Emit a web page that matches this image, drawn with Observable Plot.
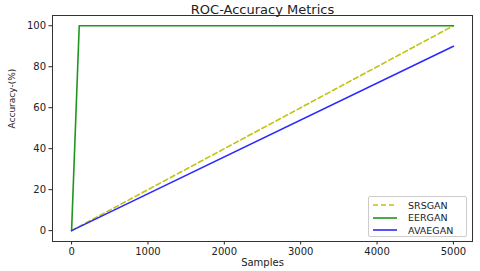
<!DOCTYPE html>
<html><head><meta charset="utf-8">
<script src="https://cdn.jsdelivr.net/npm/d3@7"></script>
<script src="https://cdn.jsdelivr.net/npm/@observablehq/plot@0.6"></script>
<style>
body{margin:0;background:#fff;font-family:"DejaVu Sans",sans-serif;}
#wrap{position:relative;width:480px;height:271px;}
#legend{position:absolute;left:368px;top:196px;width:99px;height:41px;border:1px solid #ccc;border-radius:2px;background:rgba(255,255,255,0.9);box-sizing:border-box;font-size:9.5px;color:#222;}
#legend .row{position:absolute;left:0;height:12px;display:flex;align-items:center;}
#legend svg{margin-left:4px;margin-right:11px;}
</style>
</head><body>
<div id="wrap"></div>
<script>
const title = "ROC-Accuracy Metrics";
const xLabel = "Samples";
const yLabel = "Accuracy-(%)";
const seriesNames = ["SRSGAN", "EERGAN", "AVAEGAN"];
const seriesColors = ["#c2c212", "#1f961f", "#2a2aff"];
const seriesDash = ["5,3", null, null];
const srsganX = [0, 5000];
const srsganY = [0, 100];
const eerganX = [0, 100, 5000];
const eerganY = [0, 100, 100];
const avaeganX = [0, 5000];
const avaeganY = [0, 90];
const xTicks = [0, 1000, 2000, 3000, 4000, 5000];
const yTicks = [0, 20, 40, 60, 80, 100];

const toRows = (xs, ys) => xs.map((x, i) => ({x, y: ys[i]}));
const data = [toRows(srsganX, srsganY), toRows(eerganX, eerganY), toRows(avaeganX, avaeganY)];

const plot = Plot.plot({
  width: 480, height: 271,
  marginLeft: 52, marginRight: 8, marginTop: 15, marginBottom: 30,
  style: {fontFamily: "DejaVu Sans, sans-serif", fontSize: "10px", color: "#222", background: "#fff"},
  x: {domain: [-250, 5250], ticks: xTicks, tickSize: 3.5, tickPadding: 3, label: null, tickFormat: d => String(d)},
  y: {domain: [-5.3, 105], ticks: yTicks, tickSize: 3.5, tickPadding: 3, label: null, tickFormat: d => String(d)},
  marks: [
    Plot.frame({stroke: "#333", strokeWidth: 1}),
    ...data.map((rows, i) => Plot.line(rows, {x: "x", y: "y", stroke: seriesColors[i], strokeWidth: 1.6, strokeDasharray: seriesDash[i] || undefined})),
    Plot.text([title], {frameAnchor: "top", lineAnchor: "bottom", dy: -2, fontSize: 13, fill: "#222"}),
    Plot.text([xLabel], {frameAnchor: "bottom", lineAnchor: "top", dy: 17, fontSize: 10, fill: "#222"}),
    Plot.text([yLabel], {frameAnchor: "left", dx: -40, rotate: -90, fontSize: 9, fill: "#222"})
  ]
});
const wrap = document.getElementById("wrap");
wrap.appendChild(plot);

const legend = document.createElement("div");
legend.id = "legend";
seriesNames.forEach((name, i) => {
  const row = document.createElement("div");
  row.className = "row";
  row.style.top = (2 + i * 12.5) + "px";
  row.innerHTML = `<svg width="24" height="6"><line x1="0" y1="3" x2="24" y2="3" stroke="${seriesColors[i]}" stroke-width="1.6" ${seriesDash[i] ? `stroke-dasharray="${seriesDash[i]}"` : ""}/></svg><span>${name}</span>`;
  legend.appendChild(row);
});
wrap.appendChild(legend);
</script>
</body></html>
